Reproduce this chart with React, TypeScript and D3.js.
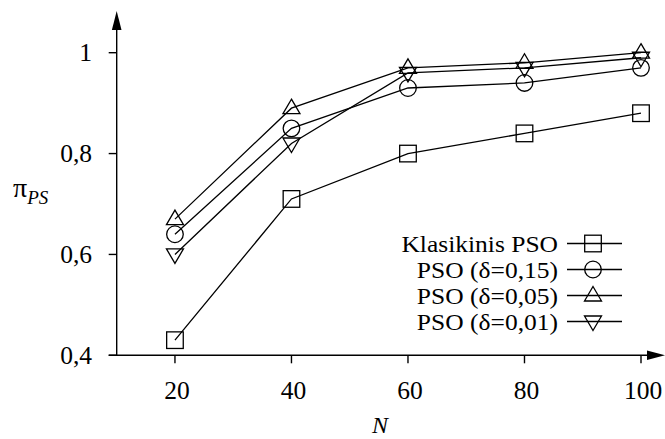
import React from 'react';
import * as d3 from 'd3';

const nValues = [20, 40, 60, 80, 100];
const seriesNames = ['Klasikinis PSO', 'PSO (δ=0,15)', 'PSO (δ=0,05)', 'PSO (δ=0,01)'];
const klasikinis = [0.43, 0.71, 0.80, 0.84, 0.88];
const pso015 = [0.64, 0.85, 0.93, 0.94, 0.97];
const pso005 = [0.67, 0.89, 0.97, 0.98, 1.0];
const pso001 = [0.60, 0.82, 0.96, 0.97, 0.99];
const yTicks = [0.4, 0.6, 0.8, 1];
const markers = ['square', 'circle', 'up', 'down'];

const FONT = '"Liberation Serif", "Times New Roman", Times, serif';
const FS = 25.5;

export default class App extends React.Component {
    svgRef = React.createRef<SVGSVGElement>();

    componentDidMount() {
        this.drawChart();
    }

    componentDidUpdate() {
        this.drawChart();
    }

    drawChart() {
        const svg = d3.select(this.svgRef.current);
        svg.selectAll('*').remove();

        const x = d3.scaleLinear().domain([10, 100]).range([116.7, 641]);
        const y = d3.scaleLinear().domain([0.4, 1]).range([355.3, 52.7]);
        const x0 = x(10), y0 = y(0.4);
        const fmt = (v: number) => String(v).replace('.', ',');

        // axes
        const axes = svg.append('g').attr('stroke', '#000').attr('stroke-width', 1.4);
        axes.append('line').attr('x1', x0 - 8).attr('x2', 650).attr('y1', y0).attr('y2', y0);
        axes.append('line').attr('x1', x0).attr('x2', x0).attr('y1', y0).attr('y2', 28);
        svg.append('path').attr('d', `M${x0},11 L${x0 - 4.8},30 L${x0 + 4.8},30 Z`).attr('fill', '#000');
        svg.append('path').attr('d', `M665,${y0} L647,${y0 - 4.8} L647,${y0 + 4.8} Z`).attr('fill', '#000');

        yTicks.forEach(t => {
            axes.append('line').attr('x1', x0 - 8).attr('x2', x0).attr('y1', y(t)).attr('y2', y(t));
            svg.append('text').attr('x', 92).attr('y', y(t) + 8.5).attr('text-anchor', 'end')
                .attr('font-family', FONT).attr('font-size', FS).text(fmt(t));
        });
        nValues.forEach(n => {
            axes.append('line').attr('x1', x(n)).attr('x2', x(n)).attr('y1', y0).attr('y2', y0 + 8);
            svg.append('text').attr('x', x(n) + 2).attr('y', 399).attr('text-anchor', 'middle')
                .attr('font-family', FONT).attr('font-size', FS).text(n);
        });

        // axis titles
        svg.append('text').attr('x', 380).attr('y', 433).attr('text-anchor', 'middle')
            .attr('font-family', FONT).attr('font-size', 24).attr('font-style', 'italic').text('N');
        const yl = svg.append('text').attr('x', 13).attr('y', 197).attr('font-family', FONT).attr('font-size', 28);
        yl.append('tspan').text('π');
        yl.append('tspan').attr('dy', 7).attr('font-size', 19).attr('font-style', 'italic').text('PS');

        const drawMarker = (g: any, kind: string, cx: number, cy: number) => {
            if (kind === 'square') {
                g.append('rect').attr('x', cx - 8.3).attr('y', cy - 8.3).attr('width', 16.6).attr('height', 16.6);
            } else if (kind === 'circle') {
                g.append('circle').attr('cx', cx).attr('cy', cy).attr('r', 8.3);
            } else if (kind === 'up') {
                g.append('path').attr('d', `M${cx},${cy - 9} L${cx + 8.5},${cy + 5.5} L${cx - 8.5},${cy + 5.5} Z`);
            } else {
                g.append('path').attr('d', `M${cx},${cy + 9} L${cx + 8.5},${cy - 5.5} L${cx - 8.5},${cy - 5.5} Z`);
            }
        };

        const series = [klasikinis, pso015, pso005, pso001];
        const line = d3.line<number>().x((d, i) => x(nValues[i])).y(d => y(d));

        series.forEach((s, k) => {
            const g = svg.append('g').attr('fill', 'none').attr('stroke', '#000').attr('stroke-width', 1.3);
            g.append('path').attr('d', line(s));
            s.forEach((v, i) => drawMarker(g, markers[k], x(nValues[i]), y(v)));
        });

        // legend (text a bit wider than plain Times, as in the original)
        seriesNames.forEach((name, k) => {
            const cy = 243.5 + k * 26;
            svg.append('text').attr('transform', `translate(558,${cy + 8}) scale(1.09,1)`)
                .attr('text-anchor', 'end')
                .attr('font-family', FONT).attr('font-size', 23.4).text(name);
            const g = svg.append('g').attr('fill', 'none').attr('stroke', '#000').attr('stroke-width', 1.3);
            g.append('line').attr('x1', 567).attr('x2', 622).attr('y1', cy).attr('y2', cy);
            drawMarker(g, markers[k], 593, cy);
        });
    }

    render() {
        return (
            <svg ref={this.svgRef} width={665} height={439}
                style={{ position: 'absolute', left: 0, top: 0, background: '#fff' }} />
        );
    }
}
